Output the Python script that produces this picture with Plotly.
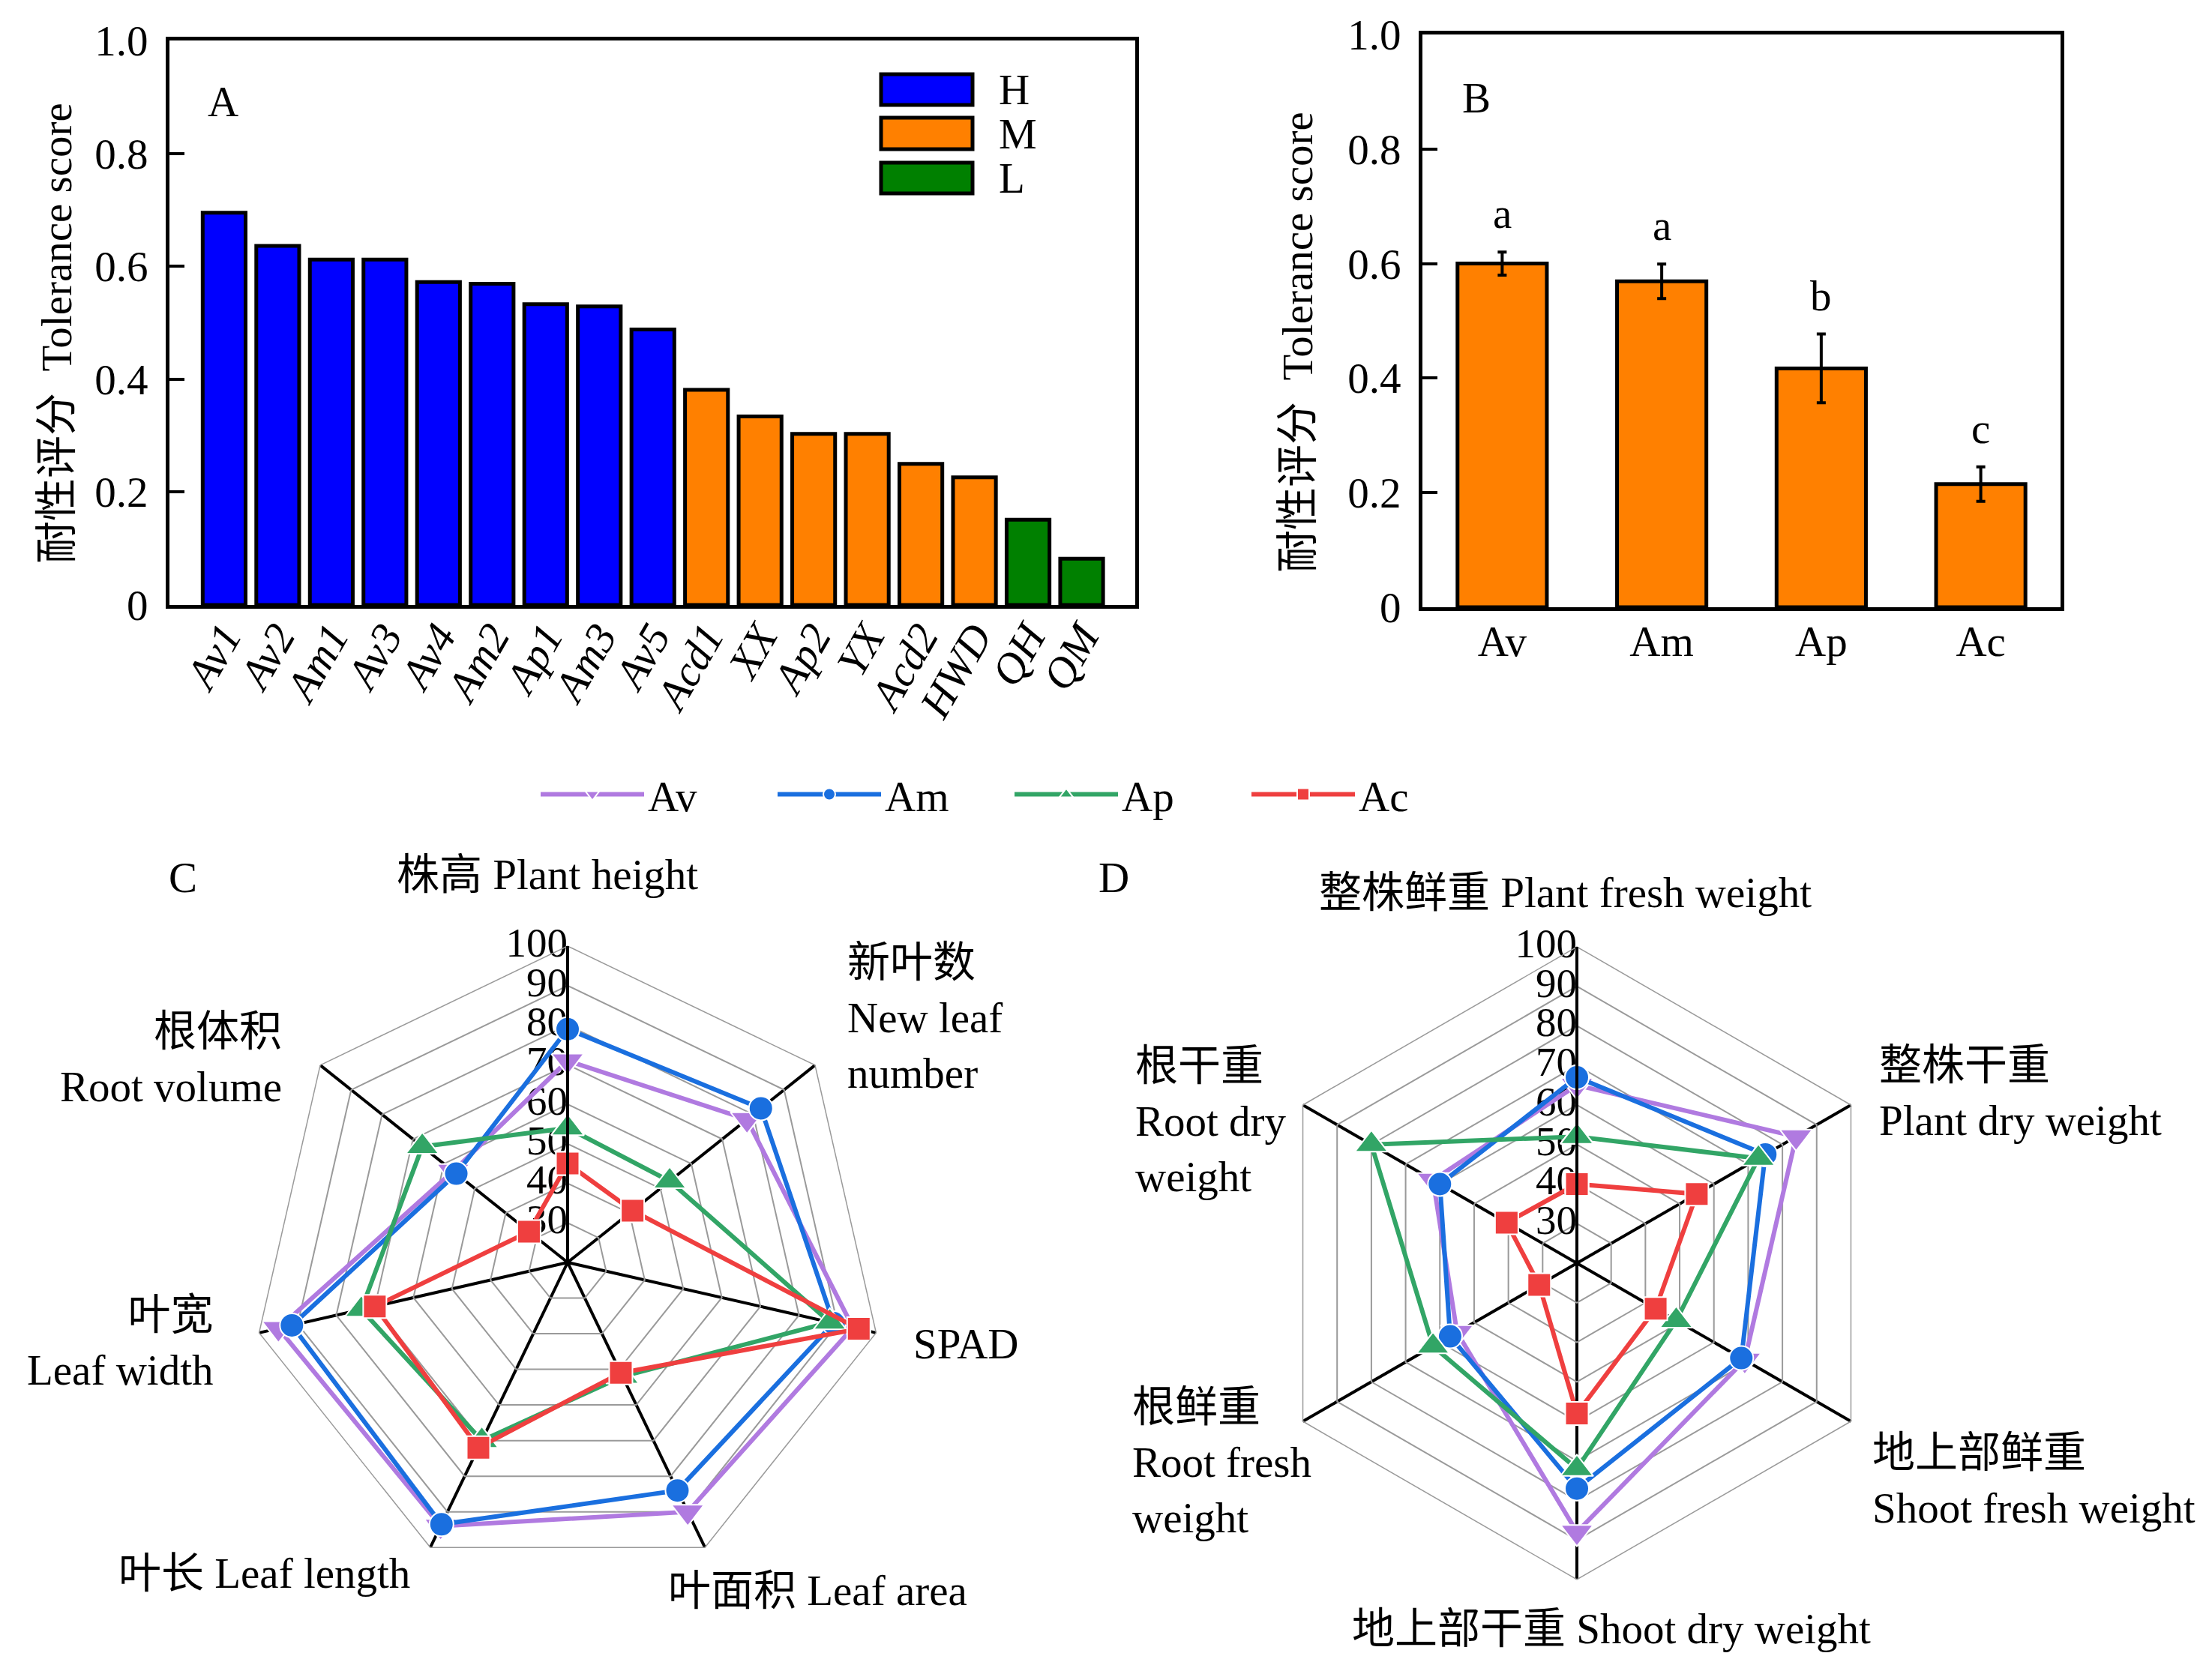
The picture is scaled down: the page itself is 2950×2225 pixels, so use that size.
import plotly.graph_objects as go

FONT = "Liberation Serif, Noto Sans CJK SC, serif"
W, H = 2950, 2225          # target picture size
PAD = 8                    # default page body margin
FW, FH = W - 2 * PAD, H - 2 * PAD

# ---------------- data ----------------
# Panel A
cultivars = ["Av1", "Av2", "Am1", "Av3", "Av4", "Am2", "Ap1", "Am3", "Av5",
             "Acd1", "XX", "Ap2", "YX", "Acd2", "HWD", "QH", "QM"]
scores_a = [0.695, 0.636, 0.612, 0.612, 0.572, 0.569, 0.533, 0.529, 0.488,
            0.381, 0.334, 0.303, 0.303, 0.250, 0.226, 0.151, 0.082]
groups_a = ["H"] * 9 + ["M"] * 6 + ["L"] * 2
group_names = ["H", "M", "L"]

# Panel B
species = ["Av", "Am", "Ap", "Ac"]
scores_b = [0.600, 0.569, 0.417, 0.215]
errors_b = [0.020, 0.030, 0.060, 0.030]
letters_b = ["a", "a", "b", "c"]

# Panel C (radar)
traits_c = ["株高 Plant height", "新叶数 New leaf number", "SPAD", "叶面积 Leaf area",
            "叶长 Leaf length", "叶宽 Leaf width", "根体积 Root volume"]
c_av = [71, 78, 94, 90, 94, 95, 57]
c_am = [79, 82.5, 89, 84, 93.5, 91.5, 56]
c_ap = [54, 53, 88, 52, 70, 73.5, 67]
c_ac = [45, 41, 95.5, 51, 72, 70, 32.5]

# Panel D (radar)
traits_d = ["整株鲜重 Plant fresh weight", "整株干重 Plant dry weight",
            "地上部鲜重 Shoot fresh weight", "地上部干重 Shoot dry weight",
            "根鲜重 Root fresh weight", "根干重 Root dry weight"]
d_av = [65, 84, 69, 88, 55, 62]
d_am = [67, 75, 68, 77, 57, 60]
d_ap = [52, 73, 49, 72, 62, 80]
d_ac = [40, 55, 43, 58, 31, 40.5]

radial_ticks = [20, 30, 40, 50, 60, 70, 80, 90, 100]
y_ticks = [0, 0.2, 0.4, 0.6, 0.8, 1.0]
y_ticktext = ["0", "0.2", "0.4", "0.6", "0.8", "1.0"]

# ---------------- styles ----------------
group_colors = {"H": "#0000FF", "M": "#FF8000", "L": "#008000"}
series_names = ["Av", "Am", "Ap", "Ac"]
series_c = [c_av, c_am, c_ap, c_ac]
series_d = [d_av, d_am, d_ap, d_ac]
series_colors = ["#B07AE0", "#1A6FDF", "#32A566", "#EF3F3F"]
series_symbols = ["triangle-down", "circle", "triangle-up", "square"]
series_msize = [38, 32, 38, 31]


def px_x(v):
    return (v - PAD) / FW


def px_y(v):
    return 1 - (v - PAD) / FH


fig = go.Figure()

# Panel A bars
fig.add_trace(go.Bar(
    x=cultivars, y=scores_a, width=0.8,
    marker=dict(color=[group_colors[g] for g in groups_a],
                line=dict(color="black", width=5)),
    xaxis="x", yaxis="y", showlegend=False))

# Panel B bars
fig.add_trace(go.Bar(
    x=species, y=scores_b, width=0.56,
    error_y=dict(type="data", array=errors_b, color="black", thickness=4, width=6),
    marker=dict(color="#FF8000", line=dict(color="black", width=5)),
    xaxis="x2", yaxis="y2", showlegend=False))

# radial tick numbers drawn beneath the series (as in the reference)
for sub, traits in (("polar", traits_c), ("polar2", traits_d)):
    fig.add_trace(go.Scatterpolar(
        r=radial_ticks, theta=[traits[0]] * len(radial_ticks),
        text=[str(t) for t in radial_ticks], mode="text",
        textposition="middle left", cliponaxis=False,
        textfont=dict(family=FONT, size=55, color="black"),
        subplot=sub, showlegend=False, hoverinfo="skip"))

# Radar traces
for name, cv, dv, col, sym, ms in zip(series_names, series_c, series_d,
                                      series_colors, series_symbols, series_msize):
    mk = dict(symbol=sym, size=ms, color=col, line=dict(color="white", width=2))
    fig.add_trace(go.Scatterpolar(
        r=cv + [cv[0]], theta=traits_c + [traits_c[0]], mode="lines+markers",
        name=name, legendgroup=name, subplot="polar", cliponaxis=False,
        line=dict(color=col, width=6), marker=mk))
    fig.add_trace(go.Scatterpolar(
        r=dv + [dv[0]], theta=traits_d + [traits_d[0]], mode="lines+markers",
        name=name, legendgroup=name, subplot="polar2", showlegend=False,
        cliponaxis=False, line=dict(color=col, width=6), marker=mk))

tickfont = dict(family=FONT, size=57, color="black")


def yaxis_style(domain, anchor):
    return dict(domain=domain, anchor=anchor, range=[0, 1], tickvals=y_ticks,
                ticktext=y_ticktext, ticks="inside", ticklen=20, tickwidth=4,
                tickcolor="black", showline=True, linecolor="black", linewidth=5,
                mirror=True, showgrid=False, zeroline=False, tickfont=tickfont,
                ticklabelstandoff=12)


polar_common = dict(
    bgcolor="white",
    gridshape="linear",
    radialaxis=dict(range=[20, 100], tickvals=radial_ticks, angle=90,
                    showline=True, linecolor="black", linewidth=4,
                    gridcolor="#9a9a9a", gridwidth=1.5, ticks="",
                    showticklabels=False),
    angularaxis=dict(rotation=90, direction="clockwise", showticklabels=False,
                     ticks="", gridcolor="black", gridwidth=4, showline=True,
                     linecolor="#9a9a9a", linewidth=1.5),
)

R = 422
fig.update_layout(
    width=FW, height=FH,
    margin=dict(l=0, r=0, t=0, b=0, autoexpand=False),
    paper_bgcolor="white", plot_bgcolor="white",
    font=dict(family=FONT, size=56, color="black"),
    xaxis=dict(domain=[px_x(226), px_x(1514)], anchor="y", range=[-1.02, 17.0],
               showline=True, linecolor="black", linewidth=5, mirror=True,
               ticks="", showgrid=False, tickangle=-60, ticklabelstandoff=-20,
               tickfont=dict(family=FONT, size=58, color="black", style="italic")),
    yaxis=yaxis_style([px_y(807), px_y(54)], "x"),
    xaxis2=dict(domain=[px_x(1897), px_x(2748)], anchor="y2", range=[-0.5, 3.5],
                showline=True, linecolor="black", linewidth=5, mirror=True,
                ticks="", showgrid=False, tickfont=tickfont, ticklabelstandoff=-8),
    yaxis2=yaxis_style([px_y(810), px_y(46)], "x2"),
    polar=dict(domain=dict(x=[px_x(757 - R), px_x(757 + R)],
                           y=[px_y(1684 + R), px_y(1684 - R)]), **polar_common),
    polar2=dict(domain=dict(x=[px_x(2103 - R), px_x(2103 + R)],
                            y=[px_y(1685 + R), px_y(1685 - R)]), **polar_common),
    legend=dict(orientation="h", x=px_x(716), xanchor="left",
                y=px_y(1060), yanchor="middle",
                font=dict(family=FONT, size=57, color="black"),
                itemwidth=138, entrywidth=163, bgcolor="rgba(0,0,0,0)"),
)

# Panel A legend (patches)
patch_rows = [(99, 140), (157, 199), (217, 258)]
for g, (y0, y1) in zip(group_names, patch_rows):
    fig.add_shape(type="rect", xref="paper", yref="paper",
                  x0=px_x(1175), x1=px_x(1297), y0=px_y(y1), y1=px_y(y0),
                  fillcolor=group_colors[g], line=dict(color="black", width=5))
    fig.add_annotation(text=g, xref="paper", yref="paper", x=px_x(1330),
                       y=px_y((y0 + y1) / 2), xanchor="left", yanchor="middle",
                       showarrow=False, font=dict(family=FONT, size=57))

# significance letters
for sp, v, e, lt in zip(species, scores_b, errors_b, letters_b):
    fig.add_annotation(text=lt, x=sp, y=v + e, xref="x2", yref="y2",
                       yanchor="bottom", yshift=18, showarrow=False,
                       font=dict(family=FONT, size=57))


def label(text, x, y, xanchor="center", align="center", size=57):
    fig.add_annotation(text=text, xref="paper", yref="paper", x=px_x(x), y=px_y(y),
                       xanchor=xanchor, yanchor="middle", align=align,
                       showarrow=False, font=dict(family=FONT, size=size, color="black"))


label("A", 297, 135)
label("B", 1969, 131)
label("C", 244, 1170)
label("D", 1485, 1170)

for xt, yt in ((75, 445), (1730, 457)):
    fig.add_annotation(text="耐性评分  Tolerance score", xref="paper", yref="paper",
                       x=px_x(xt), y=px_y(yt), xanchor="center", yanchor="middle",
                       textangle=-90, showarrow=False,
                       font=dict(family=FONT, size=57))

# radar C labels
label("株高 Plant height", 730, 1166)
label("新叶数<br>New leaf<br>number", 1128, 1357, xanchor="left", align="left")
label("SPAD", 1216, 1792, xanchor="left", align="left")
label("叶面积 Leaf area", 1090, 2121)
label("叶长 Leaf length", 352, 2098)
label("叶宽<br>Leaf width", 286, 1790, xanchor="right", align="right")
label("根体积<br>Root volume", 378, 1412, xanchor="right", align="right")

# radar D labels
label("整株鲜重 Plant fresh weight", 2087, 1190)
label("整株干重<br>Plant dry weight", 2504, 1457, xanchor="left", align="left")
label("地上部鲜重<br>Shoot fresh weight", 2495, 1974, xanchor="left", align="left")
label("地上部干重 Shoot dry weight", 2149, 2172)
label("根鲜重<br>Root fresh<br>weight", 1508, 1950, xanchor="left", align="left")
label("根干重<br>Root dry<br>weight", 1512, 1495, xanchor="left", align="left")

fig.write_html("out.html")
